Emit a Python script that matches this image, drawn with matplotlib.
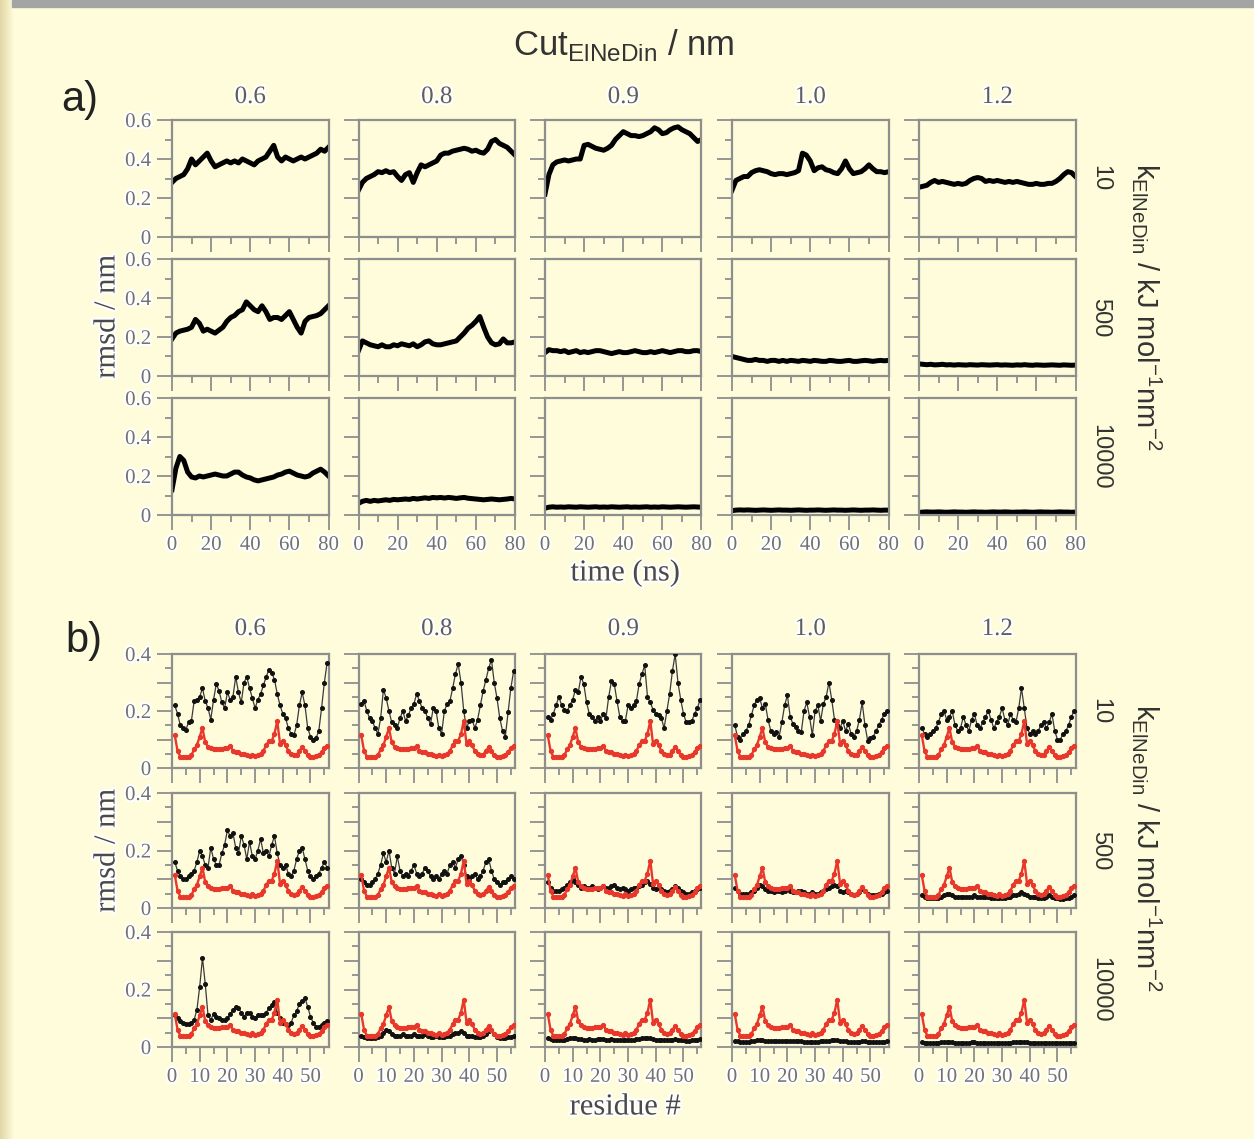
import numpy as np
import matplotlib
matplotlib.use('Agg')
import matplotlib.pyplot as plt
import matplotlib.patheffects as pe
from matplotlib.ticker import FixedLocator

# ---------------- data ----------------
cut_labels = ['0.6', '0.8', '0.9', '1.0', '1.2']
k_labels = ['10', '500', '10000']
time_ns = np.arange(0, 81, 2)
residue = np.arange(1, 57)

# a) rmsd vs time (nm), rows = k, cols = cut
a_k10_c06 = [0.28,0.30,0.31,0.32,0.35,0.40,0.37,0.39,0.41,0.43,0.39,0.36,0.37,0.38,0.39,0.38,0.39,0.38,0.40,0.39,0.38,0.37,0.39,0.40,0.41,0.44,0.47,0.41,0.39,0.41,0.40,0.39,0.40,0.41,0.40,0.41,0.42,0.43,0.45,0.44,0.46]
a_k10_c08 = [0.24,0.28,0.30,0.31,0.32,0.335,0.33,0.34,0.33,0.335,0.31,0.29,0.32,0.33,0.28,0.33,0.37,0.36,0.37,0.38,0.39,0.42,0.43,0.43,0.44,0.445,0.45,0.455,0.45,0.44,0.445,0.435,0.43,0.45,0.49,0.50,0.48,0.47,0.46,0.44,0.42]
a_k10_c09 = [0.22,0.32,0.37,0.385,0.39,0.395,0.39,0.395,0.40,0.40,0.47,0.475,0.465,0.455,0.45,0.445,0.455,0.47,0.50,0.52,0.54,0.53,0.52,0.52,0.515,0.52,0.53,0.54,0.56,0.55,0.53,0.535,0.55,0.56,0.565,0.55,0.54,0.53,0.51,0.49,0.50]
a_k10_c10 = [0.24,0.29,0.30,0.31,0.31,0.33,0.34,0.345,0.34,0.335,0.325,0.32,0.325,0.325,0.32,0.325,0.33,0.34,0.43,0.42,0.39,0.34,0.355,0.36,0.345,0.34,0.33,0.325,0.35,0.39,0.35,0.325,0.33,0.335,0.35,0.37,0.35,0.335,0.335,0.33,0.335]
a_k10_c12 = [0.255,0.26,0.265,0.28,0.29,0.28,0.285,0.28,0.275,0.27,0.275,0.27,0.275,0.29,0.30,0.305,0.30,0.285,0.29,0.285,0.29,0.285,0.28,0.285,0.28,0.285,0.28,0.275,0.27,0.27,0.275,0.27,0.27,0.275,0.275,0.285,0.30,0.32,0.335,0.33,0.31]

a_k500_c06 = [0.19,0.22,0.23,0.235,0.24,0.25,0.29,0.27,0.23,0.24,0.23,0.22,0.235,0.25,0.28,0.30,0.31,0.33,0.34,0.38,0.36,0.34,0.33,0.36,0.33,0.29,0.30,0.30,0.29,0.31,0.33,0.29,0.25,0.22,0.28,0.30,0.305,0.31,0.32,0.34,0.36]
a_k500_c08 = [0.13,0.18,0.17,0.16,0.155,0.15,0.16,0.15,0.15,0.16,0.155,0.165,0.16,0.155,0.165,0.15,0.16,0.175,0.18,0.165,0.16,0.16,0.165,0.17,0.175,0.18,0.20,0.22,0.245,0.26,0.28,0.305,0.25,0.20,0.17,0.16,0.165,0.19,0.17,0.17,0.175]
a_k500_c09 = [0.12,0.135,0.13,0.13,0.125,0.13,0.12,0.125,0.13,0.12,0.125,0.12,0.125,0.13,0.13,0.125,0.12,0.115,0.12,0.125,0.12,0.12,0.125,0.13,0.125,0.12,0.12,0.125,0.12,0.125,0.13,0.125,0.12,0.125,0.13,0.13,0.125,0.125,0.13,0.13,0.125]
a_k500_c10 = [0.10,0.095,0.09,0.085,0.08,0.08,0.085,0.08,0.08,0.075,0.08,0.08,0.075,0.08,0.075,0.08,0.078,0.075,0.08,0.078,0.075,0.08,0.078,0.075,0.075,0.08,0.078,0.075,0.075,0.078,0.08,0.075,0.075,0.078,0.08,0.078,0.075,0.078,0.08,0.078,0.08]
a_k500_c12 = [0.062,0.06,0.058,0.06,0.057,0.058,0.06,0.057,0.058,0.056,0.058,0.057,0.056,0.058,0.057,0.056,0.058,0.057,0.056,0.057,0.058,0.056,0.057,0.056,0.055,0.057,0.056,0.058,0.056,0.055,0.057,0.056,0.055,0.056,0.057,0.056,0.055,0.057,0.056,0.055,0.056]

a_k10000_c06 = [0.13,0.24,0.30,0.28,0.22,0.195,0.19,0.20,0.195,0.20,0.205,0.21,0.205,0.20,0.20,0.21,0.22,0.22,0.205,0.195,0.19,0.18,0.175,0.18,0.185,0.19,0.195,0.205,0.21,0.22,0.225,0.215,0.205,0.20,0.195,0.20,0.215,0.225,0.235,0.22,0.20]
a_k10000_c08 = [0.06,0.07,0.075,0.07,0.075,0.072,0.075,0.078,0.075,0.08,0.078,0.08,0.082,0.08,0.085,0.082,0.085,0.088,0.085,0.09,0.088,0.09,0.087,0.09,0.088,0.085,0.088,0.09,0.086,0.084,0.082,0.08,0.078,0.08,0.082,0.08,0.078,0.08,0.082,0.085,0.082]
a_k10000_c09 = [0.035,0.04,0.042,0.04,0.041,0.04,0.042,0.041,0.04,0.042,0.041,0.04,0.041,0.042,0.04,0.041,0.04,0.042,0.041,0.04,0.041,0.042,0.04,0.041,0.04,0.041,0.042,0.04,0.041,0.04,0.042,0.041,0.04,0.041,0.042,0.041,0.04,0.041,0.042,0.041,0.04]
a_k10000_c10 = [0.022,0.025,0.026,0.025,0.026,0.025,0.024,0.025,0.026,0.025,0.024,0.025,0.026,0.025,0.025,0.024,0.025,0.026,0.025,0.024,0.025,0.025,0.026,0.025,0.024,0.025,0.026,0.025,0.025,0.024,0.025,0.026,0.025,0.024,0.025,0.025,0.026,0.025,0.024,0.025,0.025]
a_k10000_c12 = [0.013,0.015,0.016,0.015,0.015,0.016,0.015,0.014,0.015,0.016,0.015,0.015,0.014,0.015,0.016,0.015,0.015,0.014,0.015,0.016,0.015,0.015,0.016,0.015,0.014,0.015,0.015,0.016,0.015,0.014,0.015,0.016,0.015,0.015,0.014,0.015,0.016,0.015,0.015,0.014,0.015]

# b) rmsf per residue (nm); red = reference, black = model
red_ref = [0.115,0.06,0.04,0.037,0.037,0.04,0.045,0.065,0.08,0.11,
           0.14,0.09,0.075,0.07,0.066,0.065,0.067,0.068,0.07,0.07,
           0.078,0.06,0.055,0.055,0.05,0.05,0.045,0.043,0.047,0.043,
           0.045,0.05,0.06,0.08,0.095,0.095,0.12,0.165,0.085,0.095,
           0.08,0.06,0.05,0.045,0.047,0.06,0.073,0.06,0.045,0.04,
           0.04,0.042,0.045,0.055,0.07,0.078]

b_k10_c06 = [0.22,0.19,0.15,0.14,0.135,0.16,0.165,0.235,0.24,0.25,
             0.28,0.235,0.21,0.17,0.24,0.295,0.27,0.23,0.21,0.265,
             0.24,0.25,0.32,0.265,0.23,0.30,0.32,0.28,0.245,0.21,
             0.24,0.26,0.29,0.32,0.345,0.335,0.31,0.26,0.22,0.19,
             0.175,0.14,0.12,0.115,0.15,0.22,0.265,0.22,0.14,0.11,
             0.10,0.105,0.13,0.21,0.30,0.37]
b_k10_c08 = [0.225,0.235,0.20,0.175,0.165,0.14,0.12,0.175,0.275,0.245,
             0.20,0.16,0.15,0.14,0.175,0.20,0.165,0.185,0.21,0.225,
             0.26,0.235,0.21,0.20,0.175,0.155,0.21,0.20,0.14,0.12,
             0.20,0.225,0.235,0.28,0.33,0.365,0.30,0.20,0.14,0.165,
             0.17,0.14,0.17,0.22,0.27,0.31,0.35,0.38,0.30,0.245,
             0.175,0.13,0.11,0.195,0.28,0.34]
b_k10_c09 = [0.18,0.17,0.19,0.22,0.25,0.22,0.205,0.20,0.22,0.24,
             0.275,0.265,0.32,0.295,0.23,0.19,0.18,0.165,0.18,0.165,
             0.19,0.175,0.25,0.305,0.295,0.235,0.18,0.165,0.165,0.22,
             0.21,0.22,0.235,0.295,0.33,0.36,0.25,0.23,0.205,0.19,
             0.185,0.175,0.14,0.20,0.26,0.34,0.40,0.30,0.24,0.19,
             0.16,0.16,0.165,0.19,0.21,0.24]
b_k10_c10 = [0.15,0.11,0.10,0.12,0.13,0.15,0.185,0.22,0.24,0.245,
             0.21,0.225,0.17,0.13,0.12,0.125,0.11,0.16,0.22,0.255,
             0.18,0.155,0.145,0.13,0.125,0.20,0.23,0.18,0.115,0.20,
             0.22,0.165,0.225,0.25,0.30,0.24,0.17,0.15,0.14,0.165,
             0.13,0.155,0.12,0.11,0.13,0.17,0.23,0.15,0.095,0.105,
             0.11,0.13,0.15,0.17,0.19,0.20]
b_k10_c12 = [0.14,0.12,0.11,0.12,0.13,0.14,0.16,0.19,0.20,0.17,
             0.18,0.20,0.15,0.13,0.14,0.18,0.15,0.13,0.17,0.19,
             0.15,0.14,0.16,0.18,0.20,0.17,0.14,0.16,0.18,0.21,
             0.17,0.15,0.19,0.17,0.16,0.21,0.28,0.21,0.14,0.12,
             0.13,0.12,0.13,0.15,0.16,0.14,0.16,0.19,0.13,0.10,
             0.10,0.12,0.13,0.15,0.18,0.20]

b_k500_c06 = [0.16,0.13,0.11,0.10,0.10,0.11,0.12,0.13,0.16,0.20,
              0.18,0.15,0.14,0.21,0.17,0.15,0.15,0.19,0.22,0.27,
              0.25,0.26,0.21,0.19,0.25,0.22,0.17,0.23,0.18,0.17,
              0.20,0.24,0.19,0.20,0.18,0.22,0.25,0.19,0.15,0.14,
              0.15,0.12,0.11,0.13,0.17,0.20,0.21,0.17,0.13,0.11,
              0.10,0.11,0.12,0.14,0.16,0.14]
b_k500_c08 = [0.10,0.09,0.08,0.08,0.09,0.10,0.12,0.15,0.19,0.16,
              0.20,0.14,0.12,0.18,0.13,0.11,0.12,0.11,0.13,0.15,
              0.12,0.11,0.12,0.14,0.13,0.11,0.10,0.11,0.10,0.12,
              0.13,0.12,0.15,0.16,0.14,0.17,0.18,0.15,0.11,0.10,
              0.11,0.12,0.10,0.11,0.13,0.16,0.17,0.13,0.10,0.09,
              0.08,0.09,0.09,0.10,0.11,0.10]
b_k500_c09 = [0.09,0.07,0.06,0.06,0.06,0.065,0.07,0.08,0.09,0.10,
              0.09,0.08,0.07,0.075,0.07,0.07,0.075,0.07,0.065,0.07,
              0.075,0.07,0.07,0.075,0.08,0.07,0.065,0.07,0.065,0.06,
              0.065,0.07,0.07,0.075,0.08,0.09,0.095,0.085,0.07,0.065,
              0.07,0.065,0.06,0.055,0.06,0.065,0.075,0.07,0.06,0.055,
              0.05,0.05,0.055,0.06,0.065,0.07]
b_k500_c10 = [0.07,0.06,0.05,0.05,0.05,0.05,0.055,0.06,0.07,0.08,
              0.075,0.065,0.06,0.06,0.055,0.06,0.06,0.055,0.06,0.065,
              0.06,0.055,0.055,0.06,0.06,0.055,0.05,0.05,0.055,0.05,
              0.05,0.055,0.06,0.065,0.07,0.075,0.08,0.075,0.06,0.055,
              0.06,0.055,0.05,0.045,0.05,0.055,0.065,0.06,0.05,0.045,
              0.045,0.045,0.05,0.05,0.055,0.06]
b_k500_c12 = [0.045,0.04,0.035,0.035,0.035,0.035,0.035,0.04,0.045,0.05,
              0.05,0.045,0.04,0.04,0.04,0.04,0.04,0.04,0.04,0.045,
              0.04,0.04,0.04,0.04,0.04,0.035,0.035,0.035,0.035,0.035,
              0.035,0.04,0.04,0.045,0.045,0.05,0.055,0.05,0.045,0.04,
              0.04,0.04,0.035,0.035,0.035,0.04,0.045,0.04,0.035,0.035,
              0.03,0.03,0.035,0.035,0.04,0.045]

b_k10000_c06 = [0.11,0.10,0.09,0.085,0.08,0.08,0.085,0.095,0.13,0.21,
                0.31,0.22,0.11,0.095,0.115,0.105,0.10,0.095,0.095,0.10,
                0.115,0.13,0.14,0.135,0.12,0.105,0.12,0.12,0.105,0.10,
                0.11,0.11,0.11,0.12,0.135,0.145,0.155,0.12,0.10,0.085,
                0.08,0.075,0.085,0.11,0.125,0.15,0.16,0.17,0.14,0.105,
                0.085,0.07,0.07,0.075,0.085,0.09]
b_k10000_c08 = [0.04,0.035,0.03,0.03,0.03,0.03,0.035,0.04,0.05,0.06,
                0.055,0.045,0.04,0.04,0.04,0.045,0.04,0.04,0.04,0.045,
                0.04,0.04,0.04,0.045,0.04,0.035,0.035,0.04,0.035,0.035,
                0.035,0.04,0.04,0.045,0.05,0.05,0.055,0.05,0.04,0.04,
                0.04,0.035,0.035,0.035,0.04,0.045,0.055,0.06,0.045,0.035,
                0.03,0.03,0.03,0.035,0.035,0.04]
b_k10000_c09 = [0.03,0.028,0.025,0.024,0.024,0.025,0.026,0.028,0.03,0.033,
                0.032,0.029,0.027,0.026,0.026,0.027,0.026,0.026,0.027,0.028,
                0.027,0.026,0.026,0.027,0.026,0.025,0.024,0.025,0.024,0.024,
                0.025,0.026,0.027,0.028,0.03,0.031,0.033,0.03,0.027,0.026,
                0.026,0.025,0.024,0.023,0.024,0.025,0.027,0.026,0.024,0.023,
                0.022,0.022,0.023,0.024,0.025,0.027]
b_k10000_c10 = [0.022,0.02,0.018,0.018,0.018,0.019,0.02,0.021,0.023,0.025,
                0.024,0.022,0.02,0.02,0.02,0.02,0.02,0.02,0.021,0.021,
                0.02,0.02,0.02,0.02,0.02,0.019,0.018,0.019,0.018,0.018,
                0.019,0.02,0.02,0.021,0.022,0.023,0.025,0.023,0.021,0.02,
                0.02,0.019,0.018,0.018,0.018,0.019,0.02,0.02,0.018,0.017,
                0.017,0.017,0.018,0.018,0.019,0.02]
b_k10000_c12 = [0.017,0.015,0.014,0.013,0.013,0.014,0.015,0.016,0.017,0.018,
                0.018,0.016,0.015,0.015,0.015,0.015,0.015,0.015,0.016,0.016,
                0.015,0.015,0.015,0.015,0.015,0.014,0.014,0.014,0.014,0.014,
                0.014,0.015,0.015,0.016,0.017,0.017,0.018,0.017,0.016,0.015,
                0.015,0.014,0.014,0.013,0.014,0.014,0.015,0.015,0.014,0.013,
                0.013,0.013,0.013,0.014,0.014,0.015]

a_series = [[a_k10_c06, a_k10_c08, a_k10_c09, a_k10_c10, a_k10_c12],
            [a_k500_c06, a_k500_c08, a_k500_c09, a_k500_c10, a_k500_c12],
            [a_k10000_c06, a_k10000_c08, a_k10000_c09, a_k10000_c10, a_k10000_c12]]
b_series = [[b_k10_c06, b_k10_c08, b_k10_c09, b_k10_c10, b_k10_c12],
            [b_k500_c06, b_k500_c08, b_k500_c09, b_k500_c10, b_k500_c12],
            [b_k10000_c06, b_k10000_c08, b_k10000_c09, b_k10000_c10, b_k10000_c12]]

# ---------------- style ----------------
W, H = 1254, 1139
BG = '#fefcda'
FRAME = '#8e8e8e'
TICKC = '#727272'
SERIF = 'Liberation Serif'
SANS = 'Liberation Sans'
plt.rcParams['font.family'] = [SERIF, 'DejaVu Serif']
halo = [pe.withStroke(linewidth=3, foreground='#ffffff')]

fig = plt.figure(figsize=(W / 100, H / 100), dpi=100)
fig.patch.set_facecolor(BG)

# decorative top bar and left strip
fig.patches.append(plt.Rectangle((12 / W, 1 - 7 / H), 1, 7 / H, transform=fig.transFigure,
                                 color='#a4a4a4', zorder=0))
strip = fig.add_axes([0, 0, 14 / W, 1])
strip.imshow(np.linspace(0, 1, 50)[None, :], cmap=matplotlib.colors.LinearSegmentedColormap.from_list(
    'st', ['#e2d6a6', BG]), aspect='auto', extent=[0, 1, 0, 1])
strip.axis('off')

col_left = [172, 358.5, 545, 732, 919]
col_w = 156.5
rows_a = [(120, 237), (259, 376), (398, 515)]
rows_b = [(654, 768), (793, 908), (932, 1047)]


def make_ax(x0, y0, y1):
    ax = fig.add_axes([x0 / W, 1 - y1 / H, col_w / W, (y1 - y0) / H])
    ax.set_facecolor(BG)
    for s in ax.spines.values():
        s.set_color(FRAME)
        s.set_linewidth(1.6)
    ax.tick_params(which='both', direction='out', color=FRAME, width=1.3,
                   top=False, right=False, labelcolor=TICKC, labelsize=15)
    ax.tick_params(which='major', length=11, pad=4)
    ax.tick_params(which='minor', length=5)
    return ax


def finish_labels(ax):
    for lab in ax.get_xticklabels() + ax.get_yticklabels():
        lab.set_path_effects(halo)


# ---- panel a ----
for i, (y0, y1) in enumerate(rows_a):
    for j, x0 in enumerate(col_left):
        ax = make_ax(x0, y0, y1)
        ax.plot(time_ns, a_series[i][j], color='black', lw=3.6, solid_joinstyle='round')
        ax.set_xlim(0, 80)
        ax.set_ylim(0, 0.6)
        ax.xaxis.set_major_locator(FixedLocator([0, 20, 40, 60, 80]))
        ax.xaxis.set_minor_locator(FixedLocator([10, 30, 50, 70]))
        ax.yaxis.set_major_locator(FixedLocator([0, 0.2, 0.4, 0.6]))
        ax.yaxis.set_minor_locator(FixedLocator([0.1, 0.3, 0.5]))
        if j == 0:
            ax.set_yticklabels(['0', '0.2', '0.4', '0.6'])
        else:
            ax.set_yticklabels([])
        if i == 2:
            ax.set_xticklabels(['0', '20', '40', '60', '80'])
        else:
            ax.set_xticklabels([])
        finish_labels(ax)

# ---- panel b ----
for i, (y0, y1) in enumerate(rows_b):
    for j, x0 in enumerate(col_left):
        ax = make_ax(x0, y0, y1)
        ax.plot(residue, b_series[i][j], color='#3a3a3a', lw=0.9, marker='o', ms=2.6,
                mfc='#111111', mec='#111111', zorder=3)
        ax.plot(residue, red_ref, color='#e8382c', lw=1.7, marker='o', ms=2.8,
                mfc='#e8382c', mec='#e8382c', zorder=4)
        ax.set_xlim(0, 56.5)
        ax.set_ylim(0, 0.4)
        ax.xaxis.set_major_locator(FixedLocator([0, 10, 20, 30, 40, 50]))
        ax.xaxis.set_minor_locator(FixedLocator([5, 15, 25, 35, 45, 55]))
        ax.yaxis.set_major_locator(FixedLocator([0, 0.1, 0.2, 0.3, 0.4]))
        ax.yaxis.set_minor_locator(FixedLocator([0.05, 0.15, 0.25, 0.35]))
        if j == 0:
            ax.set_yticklabels(['0', '', '0.2', '', '0.4'])
        else:
            ax.set_yticklabels([])
        if i == 2:
            ax.set_xticklabels(['0', '10', '20', '30', '40', '50'])
        else:
            ax.set_xticklabels([])
        finish_labels(ax)

# ---- texts ----
def ftext(x, y, s, **kw):
    return fig.text(x / W, 1 - y / H, s, ha='center', va='center', **kw)

ftext(624, 45, r'Cut$_\mathregular{ElNeDin}$ / nm', family=SANS, size=25, color='#333333')
ftext(80, 100, 'a)', family=SANS, size=30, color='#222222')
ftext(84, 641, 'b)', family=SANS, size=30, color='#222222')

for j, x0 in enumerate(col_left):
    t1 = ftext(x0 + col_w / 2, 97, cut_labels[j], size=18, color='#5e5e5e')
    t2 = ftext(x0 + col_w / 2, 629, cut_labels[j], size=18, color='#5e5e5e')
    t1.set_path_effects(halo)
    t2.set_path_effects(halo)

for t in [ftext(107, 317, 'rmsd / nm', size=22, rotation=90, color='#4a4a4a'),
          ftext(107, 851, 'rmsd / nm', size=22, rotation=90, color='#4a4a4a'),
          ftext(625, 573, 'time (ns)', size=22, color='#4a4a4a'),
          ftext(625, 1107, 'residue #', size=22, color='#4a4a4a')]:
    t.set_path_effects(halo)

for i, (y0, y1) in enumerate(rows_a):
    ftext(1100, (y0 + y1) / 2, k_labels[i], family=SANS, size=17, rotation=270, color='#333333')
for i, (y0, y1) in enumerate(rows_b):
    ftext(1100, (y0 + y1) / 2, k_labels[i], family=SANS, size=17, rotation=270, color='#333333')

klab = r'k$_\mathregular{ElNeDin}$ / kJ mol$^\mathregular{-1}$nm$^\mathregular{-2}$'
ftext(1147, 307, klab, family=SANS, size=21, rotation=270, color='#333333')
ftext(1147, 848, klab, family=SANS, size=21, rotation=270, color='#333333')

fig.savefig('out.png', dpi=100, facecolor=BG)
